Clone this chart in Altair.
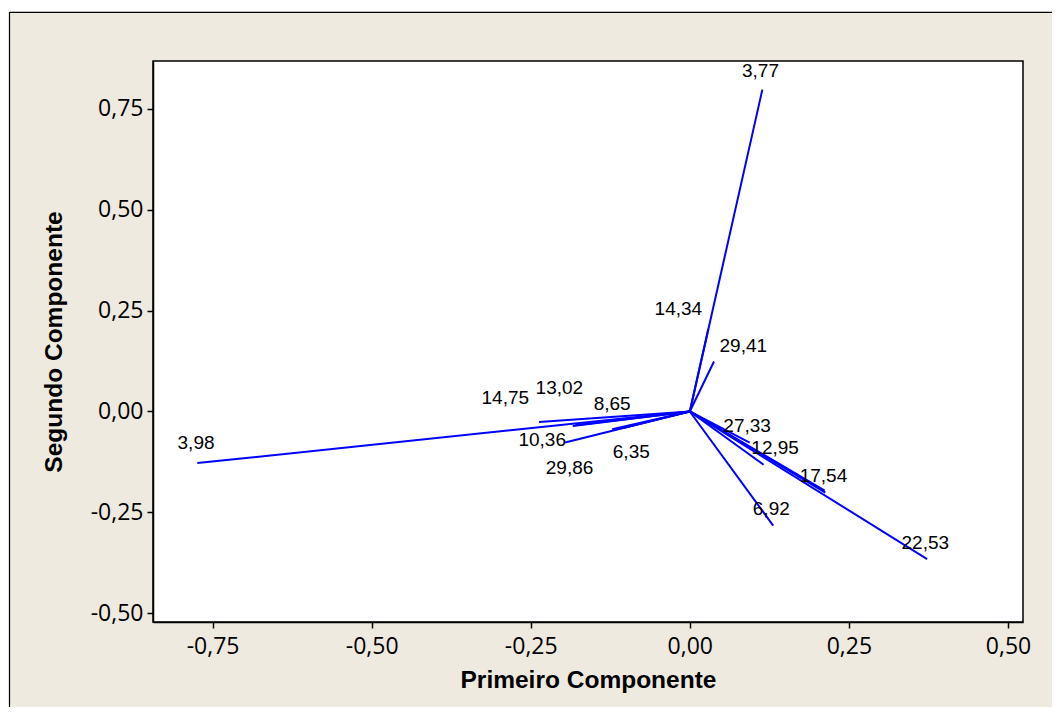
import altair as alt
import pandas as pd

# Vector endpoints (loadings)
vec_x = [0.114, 0.029, 0.038, -0.774, -0.237, -0.184, -0.180, -0.122, -0.196, -0.105,
         0.094, 0.116, 0.213, 0.212, 0.131, 0.373]
vec_y = [0.798, 0.204, 0.124, -0.128, -0.026, -0.036, -0.034, -0.044, -0.077, -0.041,
         -0.077, -0.132, -0.201, -0.196, -0.283, -0.366]

# Labels and where they sit
lab_text = ["3,77", "14,34", "29,41", "14,75", "13,02", "8,65", "3,98", "10,36",
            "29,86", "6,35", "27,33", "12,95", "17,54", "6,92", "22,53"]
lab_x = [0.111, -0.018, 0.084, -0.290, -0.205, -0.122, -0.776, -0.232,
         -0.189, -0.092, 0.090, 0.134, 0.210, 0.128, 0.370]
lab_y = [0.843, 0.254, 0.162, 0.033, 0.058, 0.019, -0.078, -0.070,
         -0.140, -0.100, -0.036, -0.090, -0.160, -0.241, -0.325]

x_ticks = [-0.75, -0.50, -0.25, 0.0, 0.25, 0.50]
y_ticks = [-0.50, -0.25, 0.0, 0.25, 0.50, 0.75]
x_domain = [-0.8436, 0.5236]
y_domain = [-0.522, 0.869]

W, H = 870, 561
BEIGE = "#EEEAE0"

vec_df = pd.DataFrame({"x0": [0.0] * len(vec_x), "y0": [0.0] * len(vec_y),
                       "x": vec_x, "y": vec_y})
lab_df = pd.DataFrame({"t": lab_text, "x": lab_x, "y": lab_y})

label_expr = "replace(replace(format(datum.value, '.2f'), '.', ','), '\u2212', '-')"

xscale = alt.Scale(domain=x_domain, nice=False, zero=False)
yscale = alt.Scale(domain=y_domain, nice=False, zero=False)

xaxis = alt.Axis(values=x_ticks, labelExpr=label_expr, title="Primeiro Componente",
                 grid=False, titleY=58, titleBaseline="middle", labelPadding=7)
yaxis = alt.Axis(values=y_ticks, labelExpr=label_expr, title="Segundo Componente",
                 grid=False, titleX=-99, titleY=H / 2, titleAngle=270,
                 titleAlign="center", titleBaseline="middle", labelPadding=4)

lines = alt.Chart(vec_df).mark_rule(color="#0000FF", strokeWidth=2).encode(
    x=alt.X("x0:Q", scale=xscale, axis=xaxis),
    y=alt.Y("y0:Q", scale=yscale, axis=yaxis),
    x2="x:Q",
    y2="y:Q",
)

labels = alt.Chart(lab_df).mark_text(
    font="Liberation Sans", fontSize=19, color="black", align="center", baseline="middle"
).encode(x=alt.X("x:Q", scale=xscale), y=alt.Y("y:Q", scale=yscale), text="t:N")

one = alt.Data(values=[{"a": 1}])
frame_v = alt.Chart(one).mark_rule(color="black", strokeWidth=1.2).encode(
    x=alt.value(-143.5), y=alt.value(-49), y2=alt.value(700))
frame_h = alt.Chart(one).mark_rule(color="black", strokeWidth=1.2).encode(
    x=alt.value(-143.5), x2=alt.value(950), y=alt.value(-48.7))
white_l = alt.Chart(one).mark_rect(color="white").encode(
    x=alt.value(-146), x2=alt.value(-144.1), y=alt.value(-54), y2=alt.value(700))
white_t = alt.Chart(one).mark_rect(color="white").encode(
    x=alt.value(-146), x2=alt.value(950), y=alt.value(-54), y2=alt.value(-49.3))

chart = alt.layer(white_l, white_t, frame_v, frame_h, lines, labels).properties(
    width=W, height=H,
    autosize="none",
    padding={"left": 145, "top": 53, "right": 29, "bottom": 85},
    background=BEIGE,
).configure_view(
    fill="white", stroke="black", strokeWidth=1.5
).configure_axis(
    domainColor="black", domainWidth=1.5, tickColor="black", tickWidth=1.5, tickSize=6,
    labelFont="Open Sans", labelFontSize=23, labelColor="black",
    titleFont="Liberation Sans", titleFontSize=24.5, titleFontWeight="bold", titleColor="black",
)

chart.save("out.html", embed_options={"renderer": "svg", "actions": False})
